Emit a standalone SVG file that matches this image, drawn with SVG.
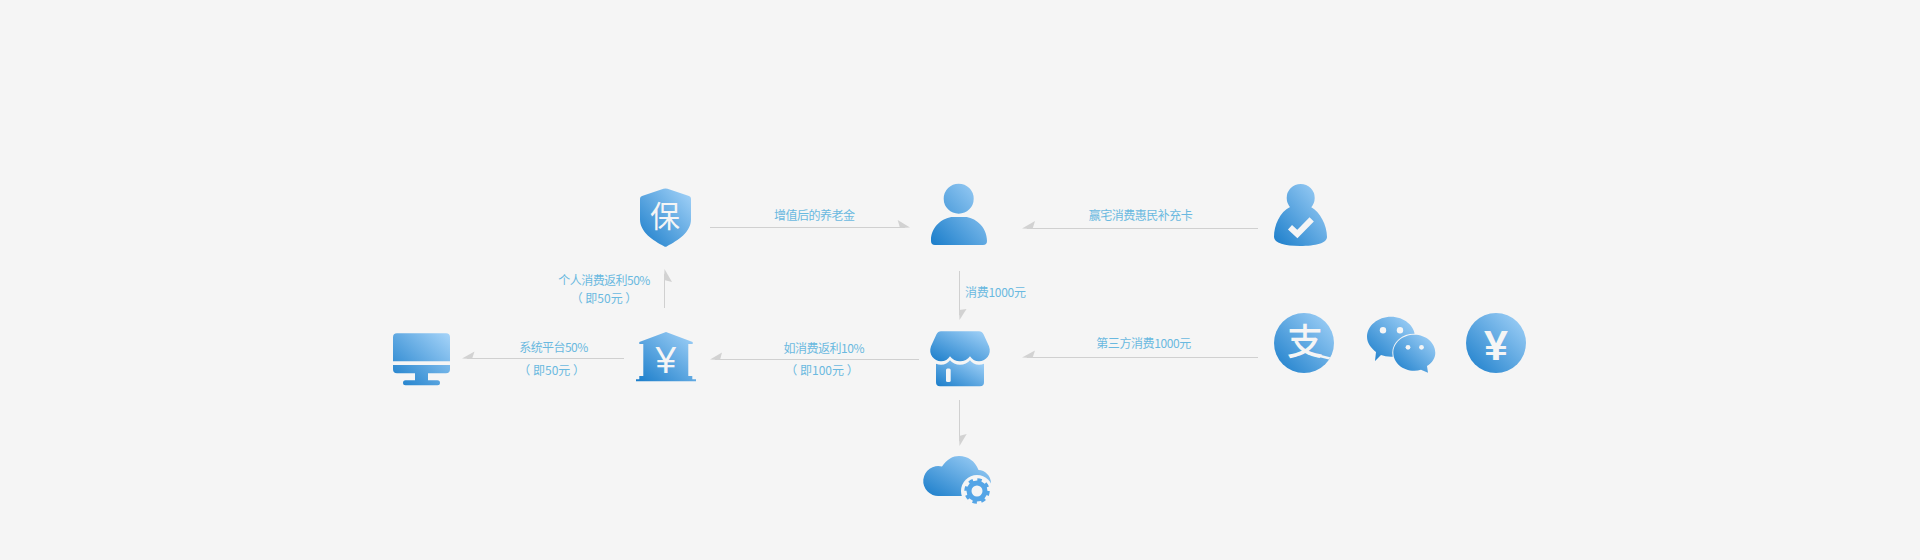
<svg xmlns="http://www.w3.org/2000/svg" width="1920" height="560" viewBox="0 0 1920 560">
<style>
.ln{stroke:#d0d0d0;stroke-width:1;fill:none}
.hd{fill:#d2d2d2}
.lb{font-family:"Noto Sans CJK SC","Liberation Sans",sans-serif;font-size:12px;fill:#6ab9e0;text-anchor:middle;font-weight:400}
.ic{fill:url(#g)}
.wt{fill:#f5f5f5}
</style>
<defs>
<linearGradient id="g" x1="0" y1="1" x2="1" y2="0"><stop offset="0" stop-color="#1a7dca"/><stop offset="1" stop-color="#a6d4f9"/></linearGradient>
<clipPath id="ac"><circle cx="1304" cy="343" r="30"/></clipPath>
</defs>
<rect width="1920" height="560" fill="#f5f5f5"/>
<g id="connectors">
<path class="ln" d="M710 227.5H905"/><polygon class="hd" points="910,227.5 897.7,220 900,228"/>
<path class="ln" d="M1027 228.5H1258"/><polygon class="hd" points="1022,228.5 1035,221 1032.5,229"/>
<path class="ln" d="M959.5 271V315"/><polygon class="hd" points="959.5,320 966.5,309 959,310"/>
<path class="ln" d="M1027 357.5H1258"/><polygon class="hd" points="1022,357.5 1035,350.5 1032.5,358"/>
<path class="ln" d="M715 359.5H919"/><polygon class="hd" points="710,359.5 722,352.5 720,360"/>
<path class="ln" d="M467 358.5H624"/><polygon class="hd" points="462,358.5 474.5,351.5 472,359"/>
<path class="ln" d="M664.5 274V308"/><polygon class="hd" points="664.5,269 672,282 664,280"/>
<path class="ln" d="M959.5 400V441"/><polygon class="hd" points="959.5,446 966.7,434 959,436"/>
<text class="lb" x="814.5" y="220" textLength="81">增值后的养老金</text>
<text class="lb" x="1140.7" y="220" textLength="104">赢宅消费惠民补充卡</text>
<text class="lb" x="995.5" y="297" textLength="61">消费1000元</text>
<text class="lb" x="1143.7" y="348" textLength="95">第三方消费1000元</text>
<text class="lb" x="824" y="353" textLength="81">如消费返利10%</text>
<text class="lb" x="822" y="375">（ 即100元 ）</text>
<text class="lb" x="553.7" y="351.5" textLength="69">系统平台50%</text>
<text class="lb" x="551.7" y="375">（ 即50元 ）</text>
<text class="lb" x="604.3" y="285" textLength="92">个人消费返利50%</text>
<text class="lb" x="604" y="303">（ 即50元 ）</text>
</g>
<g id="node-shield" transform="translate(0 -0.7)">
<path class="ic" d="M663.5 189.4Q665.5 188.8 667.5 189.4L689 196.8Q691 197.6 691 199.5V220C691 233 678 241 667 247Q665.5 248 664 247C653 241 640 233 640 220V199.5Q640 197.6 642 196.8Z"/>
<text x="665" y="227.5" font-family="Noto Sans CJK SC,sans-serif" font-size="30" font-weight="400" fill="#f5f5f5" text-anchor="middle">保</text>
</g>
<g id="node-person">
<path class="ic" d="M973.7 198.7A15 15 0 1 1 943.7 198.7A15 15 0 1 1 973.7 198.7ZM931 240C931 226 944 217 953 217H965C974 217 987 226 987 241Q987 245 983 245H935Q931 245 931 241Z"/>
</g>
<g id="node-card-holder">
<path class="ic" d="M1314.7 198A14 14 0 1 0 1286.7 198A14 14 0 1 0 1314.7 198ZM1290 207C1280 212 1274 225 1274 237C1274 243 1285 246 1300 246C1316 246 1327 243 1327 237C1327 225 1320 212 1311 207Z"/>
<path d="M1290 227.3L1297.3 234L1311.7 219.3" fill="none" stroke="#f5f5f5" stroke-width="6"/>
</g>
<g id="node-monitor" transform="translate(0 -0.7)">
<path class="ic" d="M397 334H446Q450 334 450 338V362H393V338Q393 334 397 334ZM393 365.7H450V370Q450 374 446 374H428V381H437.5A2.5 2.5 0 0 1 437.5 386H405.5A2.5 2.5 0 0 1 405.5 381H415V374H397Q393 374 393 370Z"/>
</g>
<g id="node-bank" transform="translate(0 -0.7)">
<path class="ic" d="M666 332.7L692.7 342.7V344.7H688.3V376.7H692.3V380H696V382H636V380H639.3V376.7H643.3V344.7H639.3V342.7Z"/>
<text x="665.7" y="373.5" font-family="Liberation Sans,sans-serif" font-size="37" fill="#f5f5f5" text-anchor="middle">¥</text>
</g>
<g id="node-shop" transform="translate(0 -0.7)">
<path class="ic" d="M941 332H979Q982 332 983.5 335L989 347C992 355 986 362 979 362C975 362 972 360 970 357C968 360 964 362 960 362C956 362 952 360 950 357C948 360 945 362 941 362C934 362 928 355 931 347L936.5 335Q938 332 941 332Z"/>
<path class="ic" d="M936 364.5Q938.5 365.5 941 365.5C945 365.5 948 363.5 950 361C952 363.5 956 365.5 960 365.5C964 365.5 968 363.5 970 361C972 363.5 975 365.5 979 365.5Q982 365.5 984 364.5V383Q984 387 980 387H940Q936 387 936 383Z"/>
<rect class="wt" x="946" y="369.3" width="4.7" height="13.4" rx="1.5"/>
</g>
<g id="node-cloud">
<path class="ic" d="M939 496A15 15 0 1 1 942 466.5C947 459 953 456 959 456C968 456 975 461 978.5 470C985 470 991 476 991 483V496Z"/>
<circle class="wt" cx="977" cy="491" r="16"/>
<circle cx="977" cy="491" r="8" fill="none" stroke="#55a5e6" stroke-width="5"/>
<circle cx="977" cy="491" r="11" fill="none" stroke="#55a5e6" stroke-width="3.5" stroke-dasharray="4.3 4.34"/>
</g>
<g id="node-alipay">
<circle class="ic" cx="1304" cy="343" r="30"/>
<text x="1305" y="355" font-family="Noto Sans CJK SC,sans-serif" font-size="36" font-weight="500" fill="#f5f5f5" text-anchor="middle">支</text>
<path d="M1318 355.5Q1326 357.5 1336 360" fill="none" stroke="#f5f5f5" stroke-width="2.6" clip-path="url(#ac)"/>
</g>
<g id="node-wechat">
<path class="ic" d="M1391 316.7C1404 316.7 1415 325.7 1415 336.7C1415 347.7 1404 356.7 1391 356.7Q1385 356.7 1381 355L1375 361L1376 352C1371 348 1367 343 1367 336.7C1367 325.7 1378 316.7 1391 316.7Z"/>
<circle class="wt" cx="1383" cy="330.3" r="3.2"/><circle class="wt" cx="1400" cy="330.3" r="3.2"/>
<path class="ic" stroke="#f5f5f5" stroke-width="2" paint-order="stroke" d="M1414.3 334.7C1426 334.7 1435.3 342.7 1435.3 352.7C1435.3 358 1432.5 362.5 1427 366L1428 372.7L1421 369.7Q1418 370.7 1414.3 370.7C1402.6 370.7 1393.3 362.7 1393.3 352.7C1393.3 342.7 1402.6 334.7 1414.3 334.7Z"/>
<circle class="wt" cx="1408" cy="347.3" r="2.4"/><circle class="wt" cx="1421.5" cy="347.3" r="2.4"/>
</g>
<g id="node-yen">
<circle class="ic" cx="1496" cy="343" r="30"/>
<text x="1496" y="360" font-family="Liberation Sans,sans-serif" font-size="43" font-weight="700" fill="#f5f5f5" text-anchor="middle">¥</text>
</g>
</svg>
